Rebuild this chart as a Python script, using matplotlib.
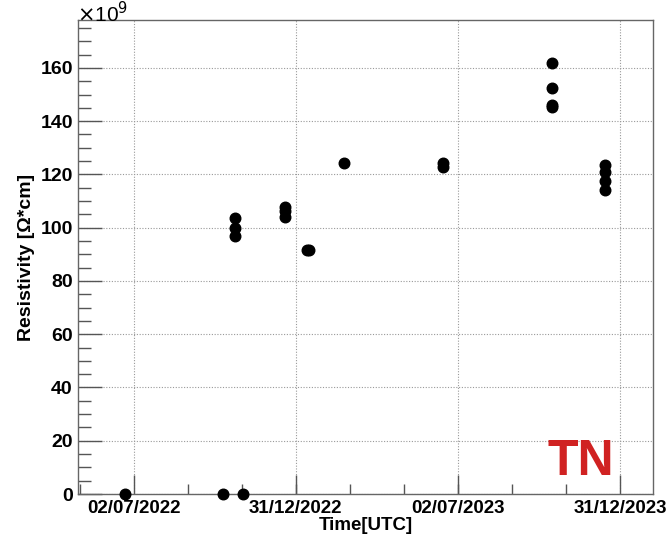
import numpy as np
import matplotlib
matplotlib.use("Agg")
import matplotlib.pyplot as plt
import matplotlib.dates as mdates
from datetime import datetime, timedelta

# ---- data (values in units of 1e9 Ohm*cm) ----
dates = ["2022-06-22", "2022-10-10", "2022-11-02",
         "2022-10-24", "2022-10-24", "2022-10-24",
         "2022-12-19", "2022-12-19", "2022-12-19",
         "2023-01-13", "2023-01-15",
         "2023-02-23",
         "2023-06-15", "2023-06-15",
         "2023-10-16", "2023-10-16", "2023-10-16", "2023-10-16",
         "2023-12-14", "2023-12-14", "2023-12-14", "2023-12-14"]
values = [0.0, 0.0, 0.0,
          103.6, 100.0, 96.7,
          107.8, 106.3, 104.1,
          91.6, 91.6,
          124.3,
          124.2, 122.9,
          161.8, 152.4, 146.0, 145.2,
          123.6, 120.9, 117.7, 114.1]
tick_dates = ["2022-07-02", "2022-12-31", "2023-07-02", "2023-12-31"]
tick_labels = ["02/07/2022", "31/12/2022", "02/07/2023", "31/12/2023"]
xlim_dates = ["2022-04-30", "2024-02-06"]
yticks = [0, 20, 40, 60, 80, 100, 120, 140, 160]

plt.rcParams['font.family'] = ['Liberation Sans', 'DejaVu Sans']

fig = plt.figure(figsize=(6.66, 5.43), dpi=100)
ax = fig.add_axes([0.1176, 0.0902, 0.8625, 0.873])

x = mdates.date2num([datetime.strptime(d, "%Y-%m-%d") for d in dates])
ax.plot(x, values, 'o', color='black', markersize=7.6, zorder=3, clip_on=False)

xt = mdates.date2num([datetime.strptime(d, "%Y-%m-%d") for d in tick_dates])
xl = mdates.date2num([datetime.strptime(d, "%Y-%m-%d") for d in xlim_dates])
ax.set_xlim(xl[0], xl[1])
ax.set_ylim(0, 178)

ax.set_xticks(xt)
ax.set_xticklabels(tick_labels, fontsize=13.5, fontweight='bold')
step = (xt[-1] - xt[0]) / 9.0
minors = np.arange(xt[0] - 3 * step, xl[1], step)
minors = [m for m in minors if xl[0] <= m <= xl[1]]
ax.set_xticks(minors, minor=True)

ax.set_yticks(yticks)
ax.set_yticklabels([str(v) for v in yticks], fontsize=14, fontweight='bold')
ax.set_yticks(np.arange(0, 178, 5), minor=True)

ax.tick_params(axis='both', which='both', direction='in', colors='#555555',
               labelcolor='black', width=1.0)
ax.tick_params(axis='y', which='major', length=17, pad=4)
ax.tick_params(axis='y', which='minor', length=9)
ax.tick_params(axis='x', which='major', length=14, pad=4)
ax.tick_params(axis='x', which='minor', length=7)

ax.grid(True, which='major', color='#999999', linestyle=(0, (1, 1.5)), linewidth=0.8)
for s in ax.spines.values():
    s.set_color('#666666')
    s.set_linewidth(1.0)

ax.set_xlabel("Time[UTC]", fontsize=13.5, fontweight='bold', labelpad=0)
ax.set_ylabel("Resistivity [Ω*cm]", fontsize=14, fontweight='bold', labelpad=4)

fig.text(0.116, 0.998, r"$\times$10$^{9}$", fontsize=15, ha='left', va='top')

ax.text(0.875, 0.018, "TN", transform=ax.transAxes, color='#d02222',
        fontsize=36, fontweight='bold', ha='center', va='bottom')

fig.savefig("out.png", dpi=100)
